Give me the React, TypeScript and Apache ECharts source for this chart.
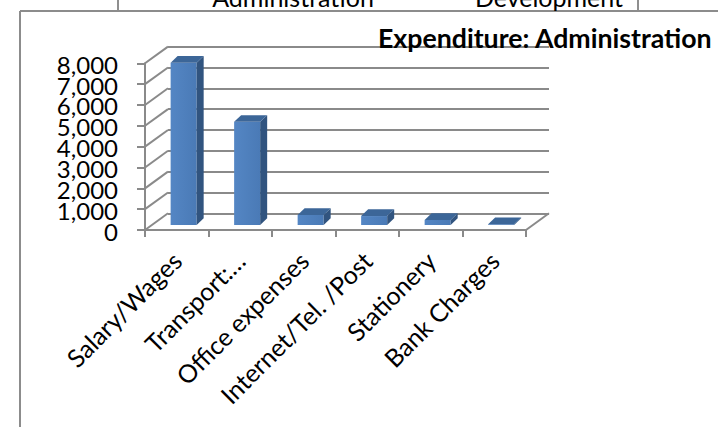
import React, { useEffect, useRef } from "react";
import * as echarts from "echarts";

const categories = ["Salary/Wages", "Transport:…", "Office expenses", "Internet/Tel. /Post", "Stationery", "Bank Charges"];
const values = [7790, 4950, 480, 430, 240, 40];
const yTicks = [0, 1000, 2000, 3000, 4000, 5000, 6000, 7000, 8000];
const chartTitle = "Expenditure: Administration";
const tableHeaders = ["Administration", "Development"];

const FONT = "Lato, 'Noto Sans', sans-serif";
const GRID_COLOR = "#8a8a8a";
// oblique projection offsets
const WALL_DX = 23;
const WALL_DY = -16.7;
const BAR_FX = 6.9; // bar front face depth offset
const BAR_FY = -5;
const BAR_DX = 7; // bar depth
const BAR_DY = -6.7;

export default function App() {
  const ref = useRef<HTMLDivElement>(null);
  useEffect(() => {
    if (!ref.current) return;
    const chart = echarts.init(ref.current, null, { renderer: "svg" });
    const gridLeft = 145, gridTop = 63.3, gridW = 381, gridH = 166.7;
    const option: any = {
      animation: false,
      textStyle: { fontFamily: FONT },
      grid: [
        { left: gridLeft, top: gridTop, width: gridW, height: gridH },
        { left: gridLeft + WALL_DX, top: gridTop + WALL_DY, width: gridW, height: gridH },
      ],
      xAxis: [
        {
          type: "category",
          data: categories,
          gridIndex: 0,
          axisLine: { show: true, lineStyle: { color: GRID_COLOR, width: 2 } },
          axisTick: { show: true, length: 7, lineStyle: { color: GRID_COLOR, width: 2 } },
          axisLabel: {
            interval: 0,
            rotate: 45,
            margin: 26,
            color: "#000",
            fontSize: 25,
            fontFamily: FONT,
          },
        },
        { type: "category", data: categories, gridIndex: 1, show: false },
      ],
      yAxis: [
        {
          type: "value",
          gridIndex: 0,
          min: 0,
          max: 8000,
          interval: 1000,
          axisLine: { show: true, lineStyle: { color: GRID_COLOR, width: 2 } },
          axisTick: { show: true, length: 8, lineStyle: { color: GRID_COLOR, width: 2 } },
          splitLine: { show: false },
          axisLabel: { show: false },
        },
        {
          type: "value",
          gridIndex: 1,
          min: 0,
          max: 8000,
          interval: 1000,
          axisLine: { show: false },
          axisTick: { show: false },
          axisLabel: { show: false },
          splitLine: { show: true, lineStyle: { color: GRID_COLOR, width: 2 } },
        },
      ],
      series: [
        {
          type: "custom",
          name: "walls",
          xAxisIndex: 0,
          yAxisIndex: 0,
          silent: true,
          data: yTicks.map((t) => [0, t]),
          renderItem: (params: any, api: any) => {
            const v = api.value(1);
            const p = api.coord([0, v]);
            const cs = params.coordSys;
            const x0 = cs.x;
            const children: any[] = [
              {
                type: "line",
                shape: { x1: x0, y1: p[1], x2: x0 + WALL_DX, y2: p[1] + WALL_DY },
                style: { stroke: GRID_COLOR, lineWidth: 2 },
              },
              {
                type: "text",
                x: x0 - 27,
                y: p[1] + 1,
                style: {
                  text: v.toLocaleString("en-US"),
                  fontSize: 24,
                  lineHeight: 20,
                  fontFamily: FONT,
                  fill: "#000",
                  align: "right",
                  verticalAlign: "middle",
                },
              },
            ];
            if (v === 0) {
              children.push({
                type: "line",
                shape: { x1: x0 + cs.width, y1: p[1], x2: x0 + cs.width + WALL_DX, y2: p[1] + WALL_DY },
                style: { stroke: GRID_COLOR, lineWidth: 2 },
              });
            }
            return { type: "group", children };
          },
        },
        {
          type: "custom",
          name: "Expenditure",
          xAxisIndex: 0,
          yAxisIndex: 0,
          data: values.map((v, i) => [i, v]),
          renderItem: (params: any, api: any) => {
            const i = api.value(0);
            const v = api.value(1);
            const base = api.coord([i, 0]);
            const top = api.coord([i, v]);
            const band = api.size([1, 0])[0];
            const w = band * 0.41;
            const x1 = base[0] + BAR_FX - w / 2;
            const x2 = x1 + w;
            const yB = base[1] + BAR_FY;
            const yT = top[1] + BAR_FY;
            return {
              type: "group",
              children: [
                {
                  type: "rect",
                  shape: { x: x1, y: yT, width: w, height: Math.max(yB - yT, 0) },
                  style: {
                    fill: new echarts.graphic.LinearGradient(0, 0, 1, 0, [
                      { offset: 0, color: "#5486c4" },
                      { offset: 1, color: "#4a7ab6" },
                    ]),
                  },
                },
                {
                  type: "polygon",
                  shape: {
                    points: [
                      [x2, yT],
                      [x2 + BAR_DX, yT + BAR_DY],
                      [x2 + BAR_DX, yB + BAR_DY],
                      [x2, yB],
                    ],
                  },
                  style: { fill: "#31547f" },
                },
                {
                  type: "polygon",
                  shape: {
                    points: [
                      [x1, yT],
                      [x2, yT],
                      [x2 + BAR_DX, yT + BAR_DY],
                      [x1 + BAR_DX, yT + BAR_DY],
                    ],
                  },
                  style: { fill: "#3c6698" },
                },
              ],
            };
          },
        },
      ],
      graphic: [
        { type: "line", shape: { x1: 20, y1: 11, x2: 718, y2: 11 }, style: { stroke: "#8c8c8c", lineWidth: 2 } },
        { type: "line", shape: { x1: 20, y1: 11, x2: 20, y2: 427 }, style: { stroke: "#8c8c8c", lineWidth: 2 } },
        { type: "line", shape: { x1: 118, y1: 0, x2: 118, y2: 10 }, style: { stroke: "#6a6a6a", lineWidth: 1.5 } },
        { type: "line", shape: { x1: 638, y1: 0, x2: 638, y2: 10 }, style: { stroke: "#6a6a6a", lineWidth: 1.5 } },
        {
          type: "text",
          x: 293,
          y: 9,
          style: { text: tableHeaders[0], fontSize: 25, fontFamily: FONT, fill: "#000", align: "center", verticalAlign: "bottom" },
        },
        {
          type: "text",
          x: 549,
          y: 9,
          style: { text: tableHeaders[1], fontSize: 25, fontFamily: FONT, fill: "#000", align: "center", verticalAlign: "bottom" },
        },
        {
          type: "text",
          x: 378,
          y: 51,
          z: 100,
          style: {
            text: chartTitle,
            fontSize: 26.7,
            fontWeight: "bold",
            fontFamily: FONT,
            fill: "#000",
            align: "left",
            verticalAlign: "bottom",
          },
        },
      ],
    };
    chart.setOption(option);
    return () => chart.dispose();
  }, []);
  return (
    <div
      ref={ref}
      style={{ position: "absolute", left: 0, top: 0, width: 718, height: 427, background: "#fff", overflow: "hidden" }}
    />
  );
}
